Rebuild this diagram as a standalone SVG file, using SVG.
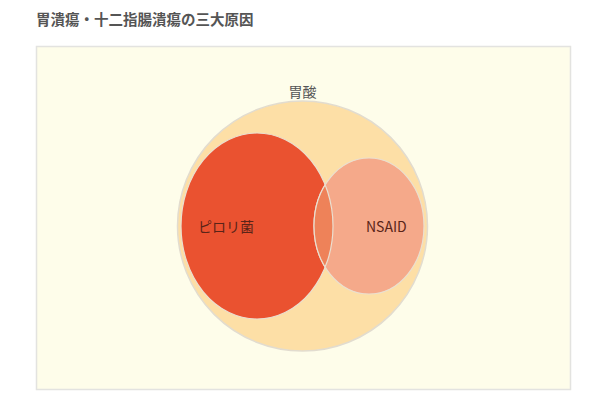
<svg xmlns="http://www.w3.org/2000/svg" width="600" height="415" viewBox="0 0 600 415">
<style>
.t{font-family:"Noto Sans CJK JP","Liberation Sans",sans-serif;}
.title{font-size:14.5px;font-weight:bold;fill:#555;}
.lbl{font-size:14px;fill:#555;}
.in{font-size:14px;fill:#5a2418;}
</style>
<defs>
<clipPath id="redClip"><ellipse cx="257" cy="226" rx="76" ry="93"/></clipPath>
<clipPath id="nsClip"><ellipse cx="369" cy="226" rx="55" ry="68"/></clipPath>
</defs>
<rect width="600" height="415" fill="#ffffff"/>
<text class="t title" x="36" y="25">胃潰瘍・十二指腸潰瘍の三大原因</text>
<rect x="36.5" y="46.5" width="534" height="343" fill="#fefdea" stroke="#e3e3e0" stroke-width="1.5"/>
<g id="acid">
<circle cx="302.5" cy="226" r="125" fill="#fddfa6" stroke="#e2dccf" stroke-width="1.5"/>
<text class="t lbl" x="302.5" y="97" text-anchor="middle">胃酸</text>
</g>
<g id="pylori">
<ellipse cx="257" cy="226" rx="76" ry="93" fill="#ea5230" stroke="#eadfd0" stroke-width="1.2"/>
<text class="t in" x="198" y="232">ピロリ菌</text>
</g>
<g id="nsaid">
<ellipse cx="369" cy="226" rx="55" ry="68" fill="#f5a98a" stroke="#eadfd0" stroke-width="1.2"/>
<ellipse cx="369" cy="226" rx="55" ry="68" fill="#ee8259" stroke="#eadfd0" stroke-width="1.2" clip-path="url(#redClip)"/>
<ellipse cx="257" cy="226" rx="76" ry="93" fill="none" stroke="#eadfd0" stroke-width="1.2" clip-path="url(#nsClip)"/>
<text class="t in" x="366" y="232">NSAID</text>
</g>
<g id="connectors"></g>
</svg>
